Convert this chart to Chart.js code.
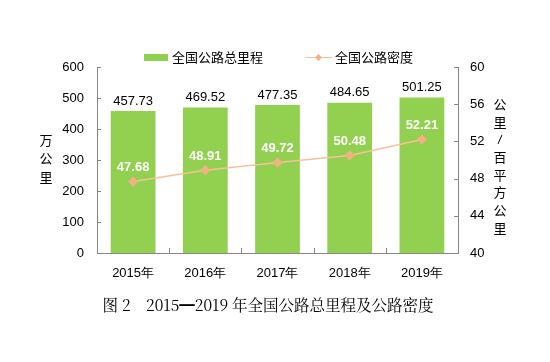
<!DOCTYPE html>
<html>
<head>
<meta charset="utf-8">
<script src="https://cdn.jsdelivr.net/npm/chart.js@4/dist/chart.umd.min.js"></script>
<style>
  html, body { margin: 0; padding: 0; background: #fff; }
  #wrap { width: 550px; height: 362px; position: relative; }
</style>
</head>
<body>
<div id="wrap"><canvas id="chart" width="550" height="362"></canvas></div>
<script>
const years = ['2015年', '2016年', '2017年', '2018年', '2019年'];
const totalMileage = [457.73, 469.52, 477.35, 484.65, 501.25];
const roadDensity = [47.68, 48.91, 49.72, 50.48, 52.21];
const leftTicks = [0, 100, 200, 300, 400, 500, 600];
const rightTicks = [40, 44, 48, 52, 56, 60];
const mileageLabel = '全国公路总里程';
const densityLabel = '全国公路密度';
const leftTitle = '万公里';
const rightTitle = '公里/百平方公里';
const caption = '图 2　2015━2019 年全国公路总里程及公路密度';

const barColor = '#92D050';
const lineColor = '#F6C29C';
const markerColor = '#F4B183';
const textColor = '#000';
const axisColor = '#868686';
const latin = '"Liberation Sans", Arial, sans-serif';
const narrow = '"Liberation Sans Narrow", "Arial Narrow", "Liberation Sans", sans-serif';
const cjk = '"Noto Sans CJK SC", sans-serif';

// inward tick marks, value labels, axis titles, legend and caption
const decorations = {
    id: 'decorations',
    afterDatasetsDraw(chart) {
        const ctx = chart.ctx;
        const area = chart.chartArea;
        const { x, y, y2 } = chart.scales;
        ctx.save();

        ctx.strokeStyle = axisColor;
        ctx.lineWidth = 1;
        ctx.beginPath();
        leftTicks.forEach(v => {
            const py = Math.round(y.getPixelForValue(v)) + 0.5;
            ctx.moveTo(area.left, py);
            ctx.lineTo(area.left + 4, py);
        });
        rightTicks.forEach(v => {
            const py = Math.round(y2.getPixelForValue(v)) + 0.5;
            ctx.moveTo(area.right, py);
            ctx.lineTo(area.right - 4, py);
        });
        for (let i = 1; i < years.length; i++) {
            const px = Math.round((x.getPixelForValue(i - 1) + x.getPixelForValue(i)) / 2) + 0.5;
            ctx.moveTo(px, area.bottom);
            ctx.lineTo(px, area.bottom - 5);
        }
        ctx.stroke();

        ctx.textAlign = 'center';
        ctx.textBaseline = 'middle';

        // bar values
        ctx.font = '13px ' + latin;
        ctx.fillStyle = textColor;
        chart.getDatasetMeta(0).data.forEach((bar, i) => {
            ctx.fillText(totalMileage[i].toFixed(2), bar.x, bar.y - 10);
        });

        // line values
        ctx.font = 'bold 13px ' + latin;
        ctx.fillStyle = '#fff';
        chart.getDatasetMeta(1).data.forEach((pt, i) => {
            ctx.fillText(roadDensity[i].toFixed(2), pt.x, pt.y - 14);
        });

        // axis titles, stacked vertically
        ctx.font = '13px ' + cjk;
        ctx.fillStyle = textColor;
        Array.from(leftTitle).forEach((ch, i) => {
            ctx.fillText(ch, 46, 140 + i * 18.5);
        });
        Array.from(rightTitle).forEach((ch, i) => {
            const cy = 104 + i * 17.7;
            if (ch === '/') {
                ctx.beginPath();
                ctx.strokeStyle = textColor;
                ctx.moveTo(502, cy - 4.5);
                ctx.lineTo(498, cy + 4.5);
                ctx.stroke();
            } else {
                ctx.fillText(ch, 500, cy);
            }
        });

        // legend
        ctx.textAlign = 'left';
        ctx.fillStyle = barColor;
        ctx.fillRect(144, 54, 24, 7);
        ctx.fillStyle = textColor;
        ctx.font = '13px ' + cjk;
        ctx.fillText(mileageLabel, 172, 57);
        ctx.strokeStyle = lineColor;
        ctx.beginPath();
        ctx.moveTo(305, 57.5);
        ctx.lineTo(332, 57.5);
        ctx.stroke();
        ctx.fillStyle = markerColor;
        ctx.beginPath();
        ctx.moveTo(318.5, 54);
        ctx.lineTo(322, 57.5);
        ctx.lineTo(318.5, 61);
        ctx.lineTo(315, 57.5);
        ctx.closePath();
        ctx.fill();
        ctx.fillStyle = textColor;
        ctx.fillText(densityLabel, 335, 57);

        // caption
        ctx.textAlign = 'center';
        ctx.font = '15.5px "Noto Serif CJK SC", "Liberation Serif", serif';
        ctx.fillText(caption, 268, 305);
        ctx.restore();
    }
};

new Chart(document.getElementById('chart'), {
    data: {
        labels: years,
        datasets: [
            {
                type: 'bar',
                label: mileageLabel,
                data: totalMileage,
                backgroundColor: barColor,
                yAxisID: 'y',
                categoryPercentage: 0.62,
                barPercentage: 1,
                order: 2,
            },
            {
                type: 'line',
                label: densityLabel,
                data: roadDensity,
                borderColor: lineColor,
                borderWidth: 1.5,
                pointStyle: 'rectRot',
                pointRadius: 4,
                pointBackgroundColor: markerColor,
                pointBorderColor: markerColor,
                yAxisID: 'y2',
                order: 1,
            },
        ],
    },
    options: {
        responsive: false,
        animation: false,
        layout: { padding: { top: 67, bottom: 0, left: 0, right: 0 } },
        plugins: { legend: { display: false }, tooltip: { enabled: false } },
        scales: {
            x: {
                grid: { display: false, tickLength: 0 },
                border: { color: axisColor },
                ticks: { color: textColor, font: { family: latin, size: 13 }, padding: 13 },
                afterFit: scale => { scale.height = 109; },
            },
            y: {
                position: 'left',
                min: 0,
                max: 600,
                afterBuildTicks: scale => { scale.ticks = leftTicks.map(v => ({ value: v })); },
                grid: { display: false, tickLength: 0 },
                border: { color: axisColor },
                ticks: { color: textColor, font: { family: narrow, size: 13 }, padding: 13 },
                afterFit: scale => { scale.width = 97; },
            },
            y2: {
                position: 'right',
                min: 40,
                max: 60,
                afterBuildTicks: scale => { scale.ticks = rightTicks.map(v => ({ value: v })); },
                grid: { display: false, tickLength: 0 },
                border: { color: axisColor },
                ticks: { color: textColor, font: { family: narrow, size: 13 }, padding: 12 },
                afterFit: scale => { scale.width = 92; },
            },
        },
    },
    plugins: [decorations],
});
</script>
</body>
</html>
